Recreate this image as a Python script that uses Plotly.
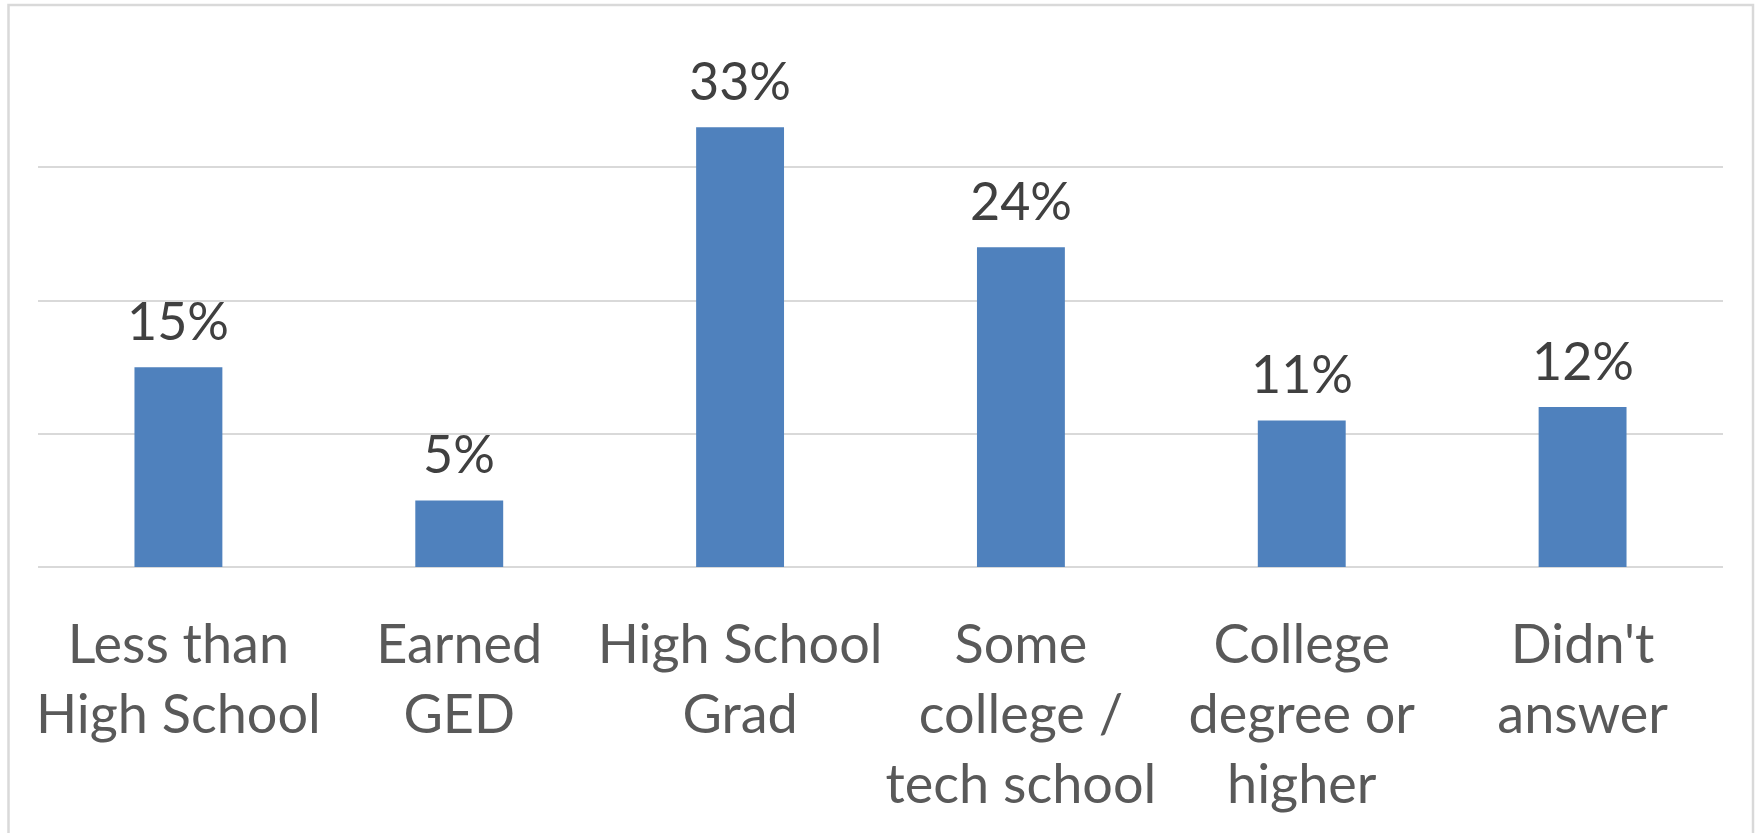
import plotly.graph_objects as go

categories = [
    "Less than<br>High School",
    "Earned<br>GED",
    "High School<br>Grad",
    "Some<br>college /<br>tech school",
    "College<br>degree or<br>higher",
    "Didn't<br>answer",
]
values = [15, 5, 33, 24, 11, 12]
value_labels = ["15%", "5%", "33%", "24%", "11%", "12%"]

W, H = 1760, 833
L, R, T, B = 38, 37, 34, 266
pw, ph = W - L - R, H - T - B

fig = go.Figure(
    go.Bar(
        x=categories,
        y=values,
        marker=dict(color="#4F81BD", line=dict(width=0)),
        width=0.313,
        hoverinfo="skip",
    )
)

# value labels above each bar
for c, v, t in zip(categories, values, value_labels):
    fig.add_annotation(
        x=c, y=v, text=t, showarrow=False,
        xanchor="center", yanchor="bottom", yshift=14,
        font=dict(family="Lato", size=52, color="#404040"),
    )

# chart-area border
fig.add_shape(
    type="rect", xref="paper", yref="paper",
    x0=(8.5 - L) / pw, x1=(1753 - L) / pw,
    y0=-1.0, y1=(H - B - 5) / ph,
    line=dict(color="#D9D9D9", width=2.5), fillcolor="rgba(0,0,0,0)",
    layer="below",
)

fig.update_layout(
    width=W, height=H,
    margin=dict(l=L, r=R, t=T, b=B, pad=0, autoexpand=False),
    paper_bgcolor="white", plot_bgcolor="white",
    showlegend=False,
    font=dict(family="Lato", color="#595959"),
    xaxis=dict(
        automargin=False,
        showgrid=False, zeroline=False, showline=False,
        ticks="outside", ticklen=30, tickcolor="rgba(0,0,0,0)",
        tickfont=dict(family="Lato", size=54, color="#595959"),
    ),
    yaxis=dict(
        automargin=False,
        range=[0, 40], dtick=10, showticklabels=False,
        showgrid=True, gridcolor="#D9D9D9", gridwidth=2,
        zeroline=True, zerolinecolor="#D9D9D9", zerolinewidth=2,
        showline=False,
    ),
)

fig.write_html("out.html")
